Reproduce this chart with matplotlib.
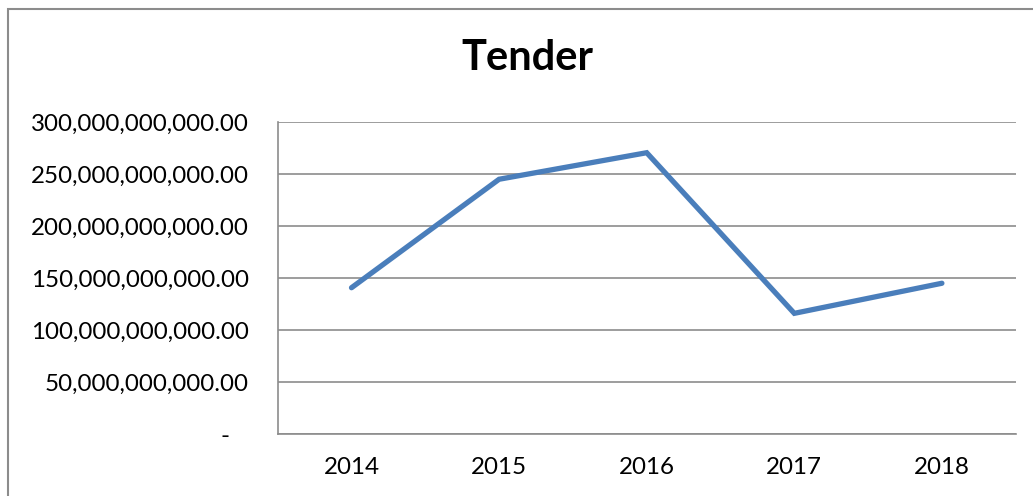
import matplotlib
matplotlib.use("Agg")
import matplotlib.pyplot as plt
from matplotlib.ticker import FuncFormatter, MultipleLocator
from matplotlib.patches import Rectangle

# data
years = ["2014", "2015", "2016", "2017", "2018"]
tender = [140.8e9, 245.0e9, 270.5e9, 116.2e9, 145.1e9]

LINE_BLUE = "#4A7EBB"
GRID_GREY = "#8C8C8C"

plt.rcParams["font.family"] = ["Lato", "DejaVu Sans"]

fig = plt.figure(figsize=(10.33, 4.96), dpi=100)
ax = fig.add_axes([277.7 / 1033, 1 - 434.3 / 496, (1015.7 - 277.7) / 1033, (434.3 - 122) / 496])

x = list(range(len(years)))
ax.plot(x, tender, color=LINE_BLUE, linewidth=3.8, solid_capstyle="round", solid_joinstyle="miter", zorder=3)

ax.set_xlim(-0.5, len(years) - 0.5)
ax.set_ylim(0, 300e9)
ax.yaxis.set_major_locator(MultipleLocator(50e9))
ax.set_xticks(x)
ax.set_xticklabels(years)


def fmt(v, pos):
    if abs(v) < 1:
        return "-   "
    return f"{v:,.2f}"


ax.yaxis.set_major_formatter(FuncFormatter(fmt))
ax.grid(axis="y", color=GRID_GREY, linewidth=1.2, zorder=1)
ax.set_axisbelow(True)
for side in ["top", "right"]:
    ax.spines[side].set_visible(False)
for side in ["left", "bottom"]:
    ax.spines[side].set_color(GRID_GREY)
    ax.spines[side].set_linewidth(1.2)
ax.tick_params(axis="y", length=0, pad=21, labelsize=17.4)
ax.tick_params(axis="x", length=0, pad=16, labelsize=17.4)

fig.text(527 / 1033, 1 - 58.5 / 496, "Tender", ha="center", va="center", fontsize=30, fontweight="bold")

# outer chart frame (only left and top visible in the crop)
fig.patches.append(Rectangle((8 / 1033, -0.2), 1.2, 1.2 - 9 / 496, transform=fig.transFigure,
                             fill=False, edgecolor=GRID_GREY, linewidth=1.5))

fig.savefig("out.png", dpi=100)
